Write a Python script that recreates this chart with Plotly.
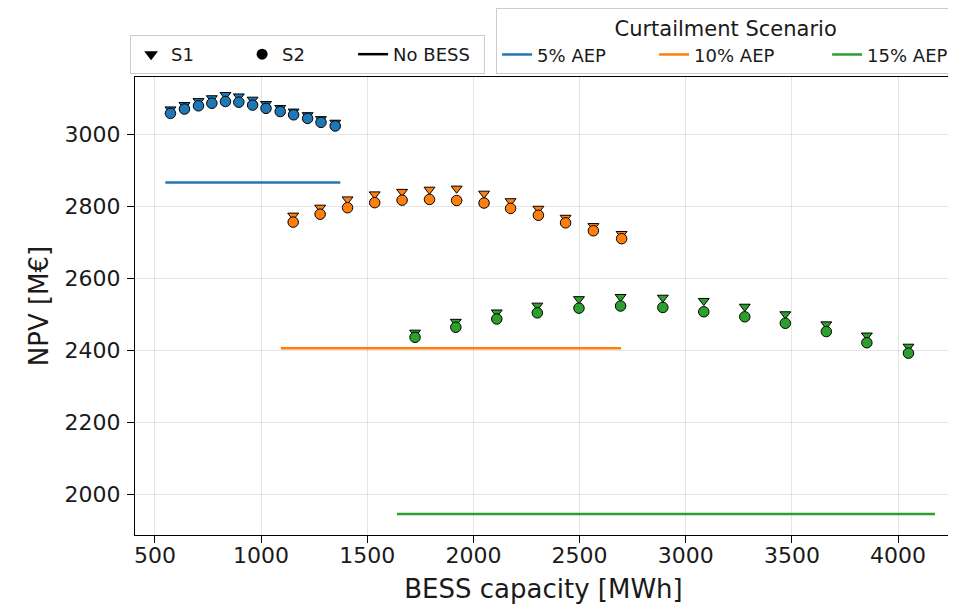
import plotly.graph_objects as go

# ---------------- data ----------------
capacity_5 = [573, 639, 705, 768, 832, 895, 960, 1023, 1090, 1153, 1219, 1282, 1349]
npv_s1_5 = [3061, 3073, 3084, 3092, 3101, 3097, 3088, 3076, 3065, 3055, 3045, 3034, 3024]
npv_s2_5 = [3058, 3070, 3079, 3086, 3091, 3089, 3081, 3072, 3063, 3054, 3044, 3033, 3023]

capacity_10 = [1151, 1278, 1407, 1535, 1664, 1793, 1921, 2050, 2175, 2306, 2434, 2565, 2698]
npv_s1_10 = [2766, 2788, 2811, 2825, 2832, 2838, 2841, 2827, 2806, 2785, 2760, 2737, 2715]
npv_s2_10 = [2756, 2778, 2796, 2810, 2817, 2819, 2816, 2809, 2794, 2775, 2754, 2732, 2710]

capacity_15 = [1725, 1917, 2110, 2301, 2497, 2693, 2892, 3085, 3278, 3469, 3662, 3853, 4049]
npv_s1_15 = [2441, 2471, 2497, 2516, 2534, 2540, 2538, 2529, 2513, 2492, 2464, 2433, 2402]
npv_s2_15 = [2436, 2464, 2487, 2504, 2517, 2523, 2519, 2507, 2493, 2475, 2452, 2421, 2392]

# No-BESS reference NPV and the capacity span of each line
nobess_npv = [2866, 2406, 1945]
nobess_span = [[549, 1373], [1093, 2695], [1640, 4174]]

scenario_names = ["5% AEP", "10% AEP", "15% AEP"]
scenario_colors = ["#1f77b4", "#ff7f0e", "#2ca02c"]

x_ticks = [500, 1000, 1500, 2000, 2500, 3000, 3500, 4000]
y_ticks = [2000, 2200, 2400, 2600, 2800, 3000]

# ---------------- figure ----------------
fig = go.Figure()
FONT = "DejaVu Sans"
TXT = "#1a1a1a"

caps = [capacity_5, capacity_10, capacity_15]
s1 = [npv_s1_5, npv_s1_10, npv_s1_15]
s2 = [npv_s2_5, npv_s2_10, npv_s2_15]
legend_widths = [112, 128, 82]

# No-BESS lines (also legend 2 entries)
for i in range(3):
    fig.add_trace(go.Scatter(
        x=nobess_span[i], y=[nobess_npv[i]] * 2, mode="lines",
        line=dict(color=scenario_colors[i], width=2.5),
        name=scenario_names[i], legend="legend2", legendwidth=legend_widths[i],
        showlegend=True, hoverinfo="skip"))

# S1 triangles (pointing down) then S2 circles on top
for i in range(3):
    fig.add_trace(go.Scatter(
        x=caps[i], y=s1[i], mode="markers",
        marker=dict(symbol="triangle-up", angle=180, size=9.5, color=scenario_colors[i],
                    line=dict(color="black", width=1), standoff=3),
        showlegend=False))
for i in range(3):
    fig.add_trace(go.Scatter(
        x=caps[i], y=s2[i], mode="markers",
        marker=dict(symbol="circle", size=10.5, color=scenario_colors[i],
                    line=dict(color="black", width=1)),
        showlegend=False))

# legend 1 proxies (no visible marks)
fig.add_trace(go.Scatter(x=[None], y=[None], mode="markers", name="S1",
                         marker=dict(symbol="triangle-down", size=12, color="black"),
                         legend="legend"))
fig.add_trace(go.Scatter(x=[None], y=[None], mode="markers", name="S2",
                         marker=dict(symbol="circle", size=11, color="black"),
                         legend="legend"))
fig.add_trace(go.Scatter(x=[None], y=[None], mode="lines", name="No BESS",
                         line=dict(color="black", width=2.5), legendwidth=86,
                         legend="legend"))

axis_common = dict(
    showline=True, linecolor="black", linewidth=1, mirror=True,
    ticks="outside", ticklen=7, tickwidth=1, tickcolor="black",
    showgrid=True, gridcolor="rgba(0,0,0,0.1)", gridwidth=1,
    zeroline=False, tickfont=dict(family=FONT, size=22, color=TXT),
)

# the page body adds an 8 px offset, so the figure is 8 px smaller than the window
fig.update_layout(
    width=948, height=597,
    margin=dict(l=127, r=4, t=69, b=70, autoexpand=False),
    paper_bgcolor="white", plot_bgcolor="white",
    font=dict(family=FONT, color=TXT),
    xaxis=dict(range=[406, 4254], tickvals=x_ticks, ticklabelstandoff=-6,
               title=dict(text="BESS capacity [MWh]", font=dict(family=FONT, size=26, color=TXT), standoff=12),
               **axis_common),
    yaxis=dict(range=[1887, 3159], tickvals=y_ticks, ticklabelstandoff=2,
               title=dict(text="NPV [M€]", font=dict(family=FONT, size=26, color=TXT), standoff=8),
               **axis_common),
    legend=dict(orientation="h", x=-0.006, y=1.0066, xanchor="left", yanchor="bottom",
                bgcolor="white", bordercolor="#cccccc", borderwidth=1,
                font=dict(family=FONT, size=18, color=TXT), entrywidth=66,
                traceorder="normal"),
    legend2=dict(orientation="h", x=0.442, y=1.0066, xanchor="left", yanchor="bottom",
                 bgcolor="white", bordercolor="#cccccc", borderwidth=1,
                 font=dict(family=FONT, size=18, color=TXT),
                 title=dict(text="Curtailment Scenario", side="top center",
                            font=dict(family=FONT, size=21, color=TXT)),
                 traceorder="normal"),
)

fig.write_html("out.html")
